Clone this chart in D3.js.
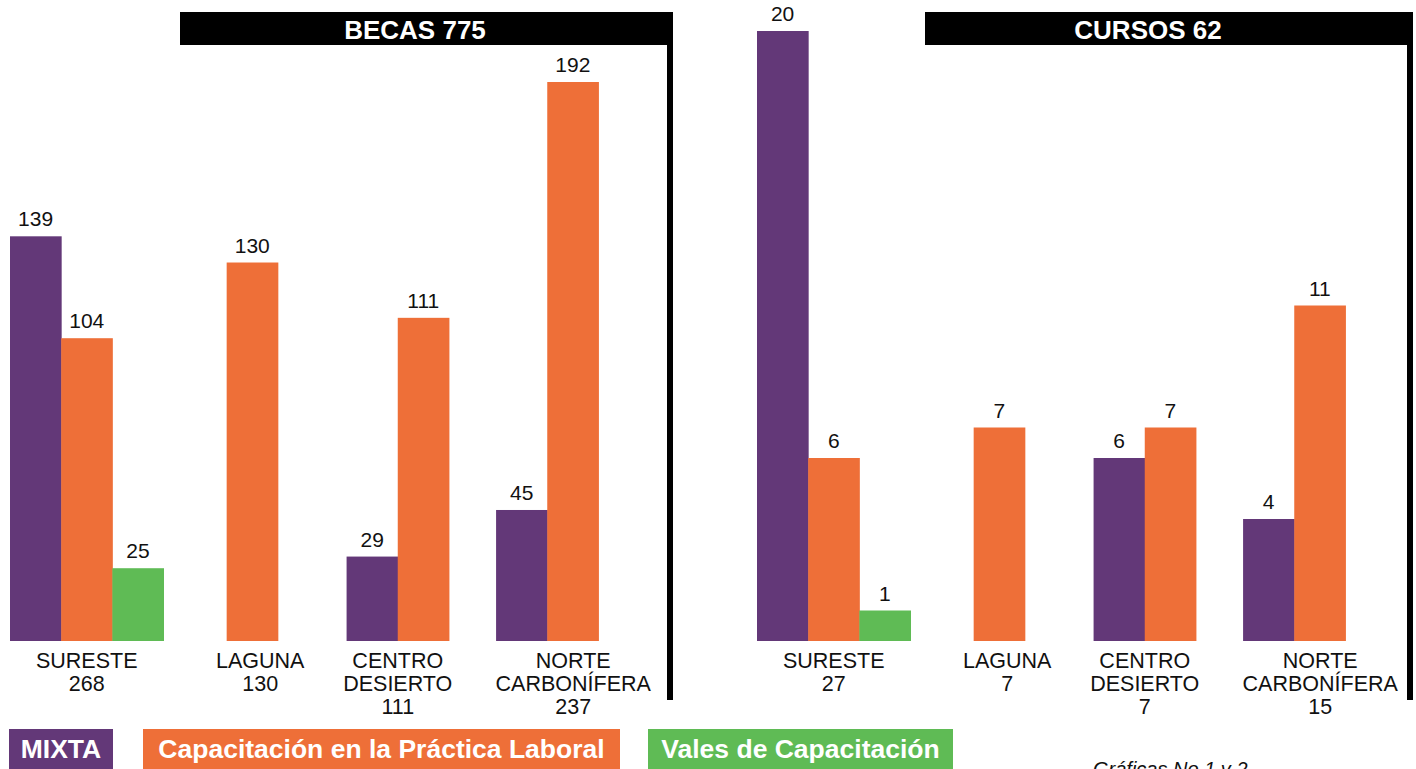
<!DOCTYPE html>
<html>
<head>
<meta charset="utf-8">
<script src="https://cdn.jsdelivr.net/npm/d3@7"></script>
<style>
  body { margin: 0; background: #fff; }
  svg { display: block; font-family: "Liberation Sans", Arial, Helvetica, sans-serif; }
</style>
</head>
<body>
<div class="d3"></div>
<script>
// data
const regions = ["SURESTE", "LAGUNA", "CENTRO DESIERTO", "NORTE CARBONÍFERA"];
const regionLines = [["SURESTE"], ["LAGUNA"], ["CENTRO", "DESIERTO"], ["NORTE", "CARBONÍFERA"]];
const series = ["MIXTA", "Capacitación en la Práctica Laboral", "Vales de Capacitación"];
const colors = ["#633878", "#ee6f38", "#5fbb55"];

const becasMixta = [139, 0, 29, 45];
const becasCPL = [104, 130, 111, 192];
const becasVales = [25, 0, 0, 0];
const becasTotals = [268, 130, 111, 237];

const cursosMixta = [20, 0, 6, 4];
const cursosCPL = [6, 7, 7, 11];
const cursosVales = [1, 0, 0, 0];
const cursosTotals = [27, 7, 7, 15];

function main() {
    const width = 1416, height = 769;
    const svg = d3.select(".d3").append("svg")
        .attr("width", width).attr("height", height);

    const baseline = 641;
    // small nudges of the region columns, same for both panels
    const barNudge = [0, 12, 4, 0];
    const labelNudge = [0, 20, 4, 26];

    function panel(opts) {
        const vals = [opts.mixta, opts.cpl, opts.vales];
        const x = d3.scaleBand().domain(regions).range(opts.xRange).padding(0);
        const y = d3.scaleLinear().domain([0, opts.max]).range([baseline, opts.top]);
        const g = svg.append("g");

        regions.forEach(function (r, i) {
            // only the non-zero bars are drawn, centred in the band
            const present = [0, 1, 2].filter(function (s) { return vals[s][i] > 0; });
            const inner = d3.scaleBand().domain(present)
                .range([0, present.length * x.bandwidth() / 3]);
            const offset = x(r) + barNudge[i] + (x.bandwidth() - present.length * x.bandwidth() / 3) / 2;

            const bars = g.selectAll(null).data(present).enter();
            bars.append("rect")
                .attr("x", function (s) { return offset + inner(s); })
                .attr("y", function (s) { return y(vals[s][i]); })
                .attr("width", inner.bandwidth() + 0.5)
                .attr("height", function (s) { return baseline - y(vals[s][i]); })
                .attr("fill", function (s) { return colors[s]; });
            bars.append("text")
                .attr("x", function (s) { return offset + inner(s) + inner.bandwidth() / 2; })
                .attr("y", function (s) { return y(vals[s][i]) - 10; })
                .attr("text-anchor", "middle")
                .attr("font-size", 21)
                .attr("fill", "#111")
                .text(function (s) { return vals[s][i]; });

            const lines = regionLines[i].concat([opts.totals[i]]);
            g.append("text")
                .attr("text-anchor", "middle")
                .attr("font-size", 21.5)
                .attr("fill", "#111")
                .selectAll("tspan").data(lines).enter().append("tspan")
                .attr("x", x(r) + x.bandwidth() / 2 + labelNudge[i])
                .attr("y", function (d, k) { return 668 + k * 23; })
                .text(function (d) { return d; });
        });

        // title banner and right rule
        g.append("rect")
            .attr("x", opts.bannerX).attr("y", 12)
            .attr("width", opts.lineX + 6 - opts.bannerX).attr("height", 33)
            .attr("fill", "#000");
        g.append("text")
            .attr("x", opts.titleX).attr("y", 39)
            .attr("text-anchor", "middle")
            .attr("font-size", 26).attr("font-weight", "bold")
            .attr("fill", "#fff")
            .text(opts.title);
        g.append("rect")
            .attr("x", opts.lineX).attr("y", 44)
            .attr("width", 6).attr("height", 656)
            .attr("fill", "#000");
    }

    panel({ mixta: becasMixta, cpl: becasCPL, vales: becasVales, totals: becasTotals,
        xRange: [10, 624], max: 192, top: 82, bannerX: 180, lineX: 667, titleX: 415, title: "BECAS 775" });
    panel({ mixta: cursosMixta, cpl: cursosCPL, vales: cursosVales, totals: cursosTotals,
        xRange: [757, 1371], max: 20, top: 31, bannerX: 925, lineX: 1407, titleX: 1148, title: "CURSOS 62" });

    // legend
    const legX = [9, 143, 648];
    const legW = [104, 477, 305];
    const leg = svg.append("g").selectAll("g").data(series).enter().append("g");
    leg.append("rect")
        .attr("x", function (d, i) { return legX[i]; })
        .attr("y", 729)
        .attr("width", function (d, i) { return legW[i]; })
        .attr("height", 42)
        .attr("fill", function (d, i) { return colors[i]; });
    leg.append("text")
        .attr("x", function (d, i) { return legX[i] + legW[i] / 2; })
        .attr("y", 758)
        .attr("text-anchor", "middle")
        .attr("font-size", 26.5).attr("font-weight", "bold")
        .attr("fill", "#fff")
        .text(function (d) { return d; });

    svg.append("text")
        .attr("x", 1093).attr("y", 776)
        .attr("font-size", 20).attr("font-style", "italic")
        .attr("fill", "#111")
        .text("Gráficas No 1 y 2");
}
main();
</script>
</body>
</html>
